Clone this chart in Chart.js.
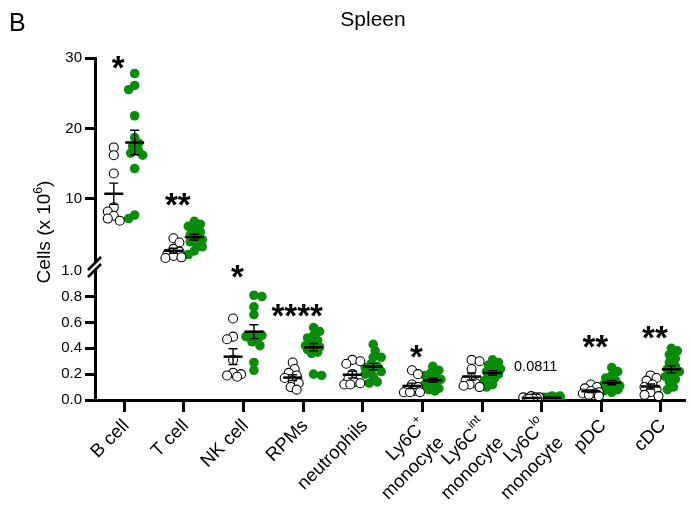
<!DOCTYPE html>
<html>
<head>
<meta charset="utf-8">
<title>Spleen</title>
<script src="https://cdn.jsdelivr.net/npm/chart.js@4.4.1/dist/chart.umd.min.js"></script>
<style>
  html, body { margin: 0; padding: 0; background: #fff; }
  #wrap { width: 691px; height: 511px; }
</style>
</head>
<body>
<div id="wrap"><canvas id="spleenChart"></canvas></div>
<script>
// cell types; "^" starts a superscript, "|" breaks the line
const categories = ['B cell', 'T cell', 'NK cell', 'RPMs', 'neutrophils',
  'Ly6C^+|monocyte', 'Ly6C^int|monocyte', 'Ly6C^lo|monocyte', 'pDC', 'cDC'];

// cells (x 10^6) per mouse, one array per cell type
const controlCells = [
  [17.3, 16.2, 13.6, 8.8, 8.2, 7.6, 7.2, 6.9],
  [4.4, 3.8, 2.9, 2.5, 2.2, 1.9, 1.7, 1.6],
  [0.63, 0.49, 0.47, 0.31, 0.21, 0.20, 0.19, 0.18],
  [0.29, 0.24, 0.21, 0.19, 0.17, 0.15, 0.13, 0.10, 0.08],
  [0.31, 0.30, 0.28, 0.20, 0.16, 0.14, 0.13, 0.12, 0.12],
  [0.23, 0.20, 0.12, 0.10, 0.08, 0.07, 0.06, 0.06, 0.06],
  [0.31, 0.30, 0.24, 0.17, 0.15, 0.13, 0.12, 0.11, 0.10],
  [0.03, 0.02, 0.02, 0.02, 0.01, 0.01, 0.01, 0.01, 0.01],
  [0.12, 0.10, 0.09, 0.07, 0.06, 0.05, 0.05, 0.04, 0.03],
  [0.19, 0.17, 0.15, 0.12, 0.10, 0.08, 0.06, 0.04, 0.03]
];
const treatedCells = [
  [27.8, 26.1, 25.5, 21.8, 18.7, 17.9, 17.5, 16.8, 16.5, 16.2, 14.3, 7.7, 7.2],
  [6.8, 6.4, 6.1, 5.7, 5.3, 4.9, 4.6, 4.2, 3.9, 3.6, 3.2, 2.6, 2.1],
  [0.81, 0.80, 0.72, 0.66, 0.50, 0.49, 0.50, 0.47, 0.45, 0.42, 0.29, 0.23],
  [0.56, 0.53, 0.50, 0.48, 0.46, 0.44, 0.42, 0.41, 0.40, 0.39, 0.37, 0.36, 0.20, 0.19],
  [0.43, 0.38, 0.33, 0.33, 0.28, 0.26, 0.25, 0.23, 0.22, 0.20, 0.18, 0.14, 0.13],
  [0.26, 0.23, 0.21, 0.19, 0.17, 0.16, 0.15, 0.14, 0.12, 0.11, 0.09, 0.08, 0.07],
  [0.31, 0.29, 0.27, 0.25, 0.24, 0.22, 0.21, 0.20, 0.19, 0.17, 0.15, 0.12, 0.10],
  [0.03, 0.03, 0.02, 0.02, 0.02, 0.02, 0.02, 0.01, 0.01, 0.01, 0.01, 0.01],
  [0.25, 0.22, 0.19, 0.17, 0.15, 0.13, 0.12, 0.11, 0.10, 0.09, 0.08, 0.07, 0.06],
  [0.40, 0.38, 0.35, 0.32, 0.29, 0.26, 0.24, 0.22, 0.20, 0.18, 0.16, 0.14, 0.10, 0.08]
];

// significance labels and the height (in cells x 10^6) they sit at
const sigLabels = ['*', '**', '*', '****', '', '*', '', '0.0811', '**', '**'];
const sigHeights = [29.3, 9.9, 0.99, 0.69, null, 0.375, null, 0.266, 0.45, 0.52];

const upperTicks = [10, 20, 30];
const lowerTicks = [0, 0.2, 0.4, 0.6, 0.8, 1.0];

const GREEN = '#0a8c0a';
const FONT = "'Liberation Sans', Arial, sans-serif";
const GROUP_SHIFT = 0.175;

// cell types with counts above 1 go on the upper axis segment
const onUpper = categories.map((c, i) => Math.max(...controlCells[i], ...treatedCells[i]) > 1);

const datasets = [];
categories.forEach((name, i) => {
  const yAxisID = onUpper[i] ? 'yTop' : 'yBottom';
  datasets.push({
    label: 'control ' + name,
    cat: i, shift: -GROUP_SHIFT, yAxisID,
    data: controlCells[i].map(v => ({ x: i - GROUP_SHIFT, y: v })),
    pointRadius: 4.5,
    pointBackgroundColor: '#fff',
    pointBorderColor: '#000',
    pointBorderWidth: 1.1
  });
  datasets.push({
    label: 'treated ' + name,
    cat: i, shift: GROUP_SHIFT, yAxisID,
    data: treatedCells[i].map(v => ({ x: i + GROUP_SHIFT, y: v })),
    pointRadius: 4.8,
    pointBackgroundColor: GREEN,
    pointBorderColor: GREEN,
    pointBorderWidth: 0
  });
});

// spread overlapping dots sideways like a bee swarm
function swarm(points, cx) {
  const placed = [];
  const minDist = 6.5, maxOff = 8, step = 2;
  points.slice().sort((a, b) => a.y - b.y).forEach((p, n) => {
    let best = 0, bestD = -1;
    outer:
    for (let k = 0; k <= maxOff / step; k++) {
      const sides = k === 0 ? [0] : (n % 2 ? [k * step, -k * step] : [-k * step, k * step]);
      for (const s of sides) {
        let d = Infinity;
        placed.forEach(q => { d = Math.min(d, Math.hypot(q.x - (cx + s), q.y - p.y)); });
        if (d >= minDist) { best = s; break outer; }
        if (d > bestD) { bestD = d; best = s; }
      }
    }
    p.x = cx + best;
    placed.push({ x: p.x, y: p.y });
  });
}

const swarmPlugin = {
  id: 'swarm',
  afterDatasetsUpdate(chart) {
    chart.data.datasets.forEach((ds, i) => {
      const meta = chart.getDatasetMeta(i);
      swarm(meta.data, chart.scales.x.getPixelForValue(ds.cat + ds.shift));
    });
  }
};

// mean +/- SEM bars over each group
const meanSemPlugin = {
  id: 'meanSem',
  afterDatasetsDraw(chart) {
    const ctx = chart.ctx;
    ctx.save();
    ctx.strokeStyle = '#000';
    chart.data.datasets.forEach(ds => {
      const vals = ds.data.map(p => p.y);
      const n = vals.length;
      const mean = vals.reduce((a, b) => a + b, 0) / n;
      const sd = Math.sqrt(vals.reduce((a, b) => a + (b - mean) ** 2, 0) / (n - 1));
      const sem = sd / Math.sqrt(n);
      const ys = chart.scales[ds.yAxisID];
      const cx = chart.scales.x.getPixelForValue(ds.cat + ds.shift);
      const yHi = ys.getPixelForValue(mean + sem);
      const yLo = ys.getPixelForValue(Math.max(mean - sem, 0));
      const yM = ys.getPixelForValue(mean);
      ctx.lineWidth = 1.4;
      ctx.beginPath();
      ctx.moveTo(cx, yHi); ctx.lineTo(cx, yLo);
      ctx.moveTo(cx - 4.5, yHi); ctx.lineTo(cx + 4.5, yHi);
      ctx.moveTo(cx - 4.5, yLo); ctx.lineTo(cx + 4.5, yLo);
      ctx.stroke();
      ctx.lineWidth = 2.5;
      ctx.beginPath();
      ctx.moveTo(cx - 9.5, yM); ctx.lineTo(cx + 9.5, yM);
      ctx.stroke();
    });
    ctx.restore();
  }
};

// draw "Ly6C^int" style text, right-aligned at 0
function richWidth(ctx, parts, size) {
  let w = 0;
  parts.forEach(p => {
    ctx.font = (p.sup ? size * 0.65 : size) + 'px ' + FONT;
    w += ctx.measureText(p.t).width;
  });
  return w;
}
function drawRich(ctx, text, size, y) {
  const [base, sup] = text.split('^');
  const parts = [{ t: base, sup: false }];
  if (sup) parts.push({ t: sup, sup: true });
  let x = -richWidth(ctx, parts, size);
  parts.forEach(p => {
    ctx.font = (p.sup ? size * 0.65 : size) + 'px ' + FONT;
    ctx.fillText(p.t, x, p.sup ? y - size * 0.42 : y);
    x += ctx.measureText(p.t).width;
  });
}

const labelsPlugin = {
  id: 'labels',
  afterDraw(chart) {
    const ctx = chart.ctx;
    const xs = chart.scales.x;
    const top = chart.scales.yTop;
    const bottom = chart.scales.yBottom;
    ctx.save();
    ctx.fillStyle = '#000';

    // panel letter and title
    ctx.textBaseline = 'alphabetic';
    ctx.textAlign = 'left';
    ctx.font = '25px ' + FONT;
    ctx.fillText('B', 9, 31);
    ctx.textAlign = 'center';
    ctx.font = '21px ' + FONT;
    ctx.fillText('Spleen', 373, 26);

    // y axis title with superscript
    ctx.save();
    ctx.translate(50, 232);
    ctx.rotate(-Math.PI / 2);
    ctx.font = '19px ' + FONT;
    const main = 'Cells (x 10', sup6 = '6', close = ')';
    const w1 = ctx.measureText(main).width, w3 = ctx.measureText(close).width;
    ctx.font = '12px ' + FONT;
    const w2 = ctx.measureText(sup6).width;
    const x0 = -(w1 + w2 + w3) / 2;
    ctx.textAlign = 'left';
    ctx.font = '19px ' + FONT;
    ctx.fillText(main, x0, 0);
    ctx.font = '12px ' + FONT;
    ctx.fillText(sup6, x0 + w1, -8);
    ctx.font = '19px ' + FONT;
    ctx.fillText(close, x0 + w1 + w2, 0);
    ctx.restore();

    // rotated category labels
    categories.forEach((name, i) => {
      ctx.save();
      ctx.translate(xs.getPixelForValue(i) + 2, 423);
      ctx.rotate(-Math.PI / 4);
      ctx.textAlign = 'left';
      ctx.textBaseline = 'middle';
      name.split('|').forEach((line, k) => drawRich(ctx, line, 18.5, k * 24));
      ctx.restore();
    });

    // significance marks
    ctx.textAlign = 'center';
    sigLabels.forEach((txt, i) => {
      if (!txt) return;
      const ys = onUpper[i] ? top : bottom;
      const cy = ys.getPixelForValue(sigHeights[i]);
      const cx = xs.getPixelForValue(i) - 6;
      ctx.font = txt.startsWith('*') ? 'bold 33px ' + FONT : '14.5px ' + FONT;
      ctx.textBaseline = 'alphabetic';
      const m = ctx.measureText(txt);
      ctx.fillText(txt, cx, cy + (m.actualBoundingBoxAscent - m.actualBoundingBoxDescent) / 2);
    });

    // axis break marks
    const ax = top.right;
    const yb = (top.getPixelForValue(1) + bottom.top) / 2;
    ctx.strokeStyle = '#fff';
    ctx.lineWidth = 4;
    ctx.beginPath();
    ctx.moveTo(ax - 6, yb + 6); ctx.lineTo(ax + 6, yb - 6);
    ctx.stroke();
    ctx.strokeStyle = '#000';
    ctx.lineWidth = 2.6;
    [-3.5, 3.5].forEach(d => {
      ctx.beginPath();
      ctx.moveTo(ax - 7, yb + d + 7); ctx.lineTo(ax + 6, yb + d - 6);
      ctx.stroke();
    });
    ctx.restore();
  }
};

const tickFont = { family: FONT, size: 15 };
const axisBorder = { display: true, color: '#000', width: 3 };

new Chart(document.getElementById('spleenChart').getContext('2d'), {
  type: 'scatter',
  data: { datasets },
  options: {
    responsive: true,
    maintainAspectRatio: false,
    animation: false,
    events: [],
    layout: { padding: { top: 58, right: 0, left: 0, bottom: 0 } },
    plugins: { legend: { display: false }, tooltip: { enabled: false } },
    scales: {
      x: {
        type: 'linear',
        min: -0.49,
        max: 9.41,
        afterBuildTicks: s => { s.ticks = categories.map((c, i) => ({ value: i })); },
        ticks: { display: false },
        grid: { drawOnChartArea: false, tickLength: 12, tickWidth: 3, tickColor: '#000' },
        border: axisBorder,
        afterFit: s => { s.height = 111; }
      },
      yBottom: {
        type: 'linear',
        position: 'left',
        stack: 'cells',
        stackWeight: 129.5,
        min: 0,
        max: 1,
        afterBuildTicks: s => { s.ticks = lowerTicks.map(v => ({ value: v })); },
        ticks: { autoSkip: false, callback: v => v.toFixed(1), font: tickFont, color: '#000', padding: 3 },
        grid: {
          drawOnChartArea: false, tickLength: 10, tickWidth: 3,
          tickColor: c => (c.tick && c.tick.value >= 0.99 ? 'rgba(0,0,0,0)' : '#000')
        },
        border: axisBorder,
        afterFit: s => { s.width = 95; }
      },
      yTop: {
        type: 'linear',
        position: 'left',
        stack: 'cells',
        stackWeight: 213,
        min: -0.2,
        max: 30,
        afterBuildTicks: s => { s.ticks = upperTicks.map(v => ({ value: v })); },
        ticks: { autoSkip: false, font: tickFont, color: '#000', padding: 3 },
        grid: { drawOnChartArea: false, tickLength: 10, tickWidth: 3, tickColor: '#000' },
        border: axisBorder,
        afterFit: s => { s.width = 95; }
      }
    }
  },
  plugins: [swarmPlugin, meanSemPlugin, labelsPlugin]
});
</script>
</body>
</html>
